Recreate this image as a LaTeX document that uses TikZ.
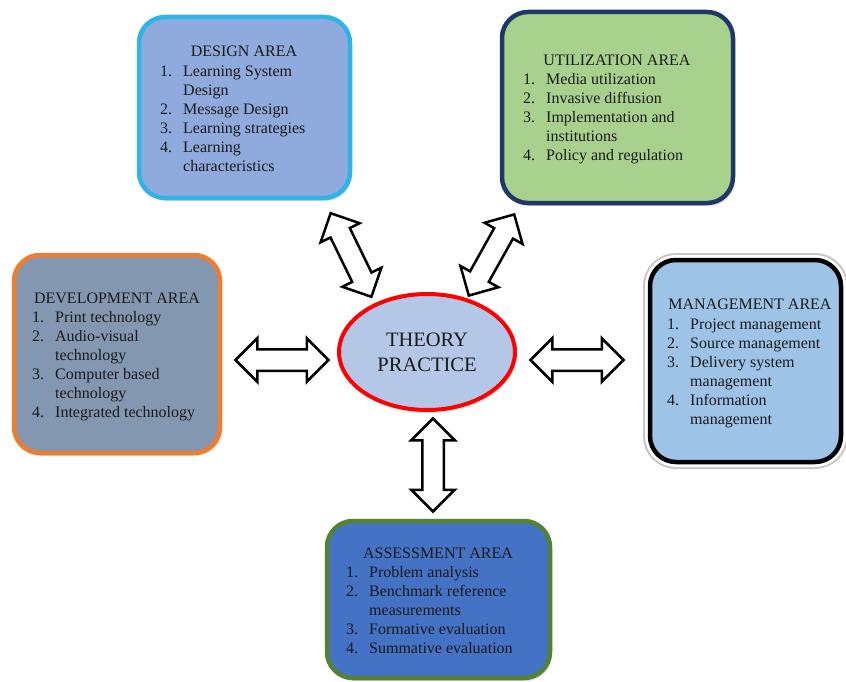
\documentclass[tikz,border=0pt]{standalone}
\usepackage{fontspec}
\setmainfont{Liberation Serif}
\usepackage{tikz}
\usetikzlibrary{shapes.geometric, shapes.arrows, shadows}
\definecolor{designfill}{HTML}{8FAADC}
\definecolor{designline}{HTML}{2EB4E6}
\definecolor{utilfill}{HTML}{A9D18E}
\definecolor{utilline}{HTML}{1F3866}
\definecolor{devfill}{HTML}{8497B0}
\definecolor{devline}{HTML}{ED7D31}
\definecolor{mgmtfill}{HTML}{9DC3E6}
\definecolor{assessfill}{HTML}{4472C4}
\definecolor{assessline}{HTML}{548235}
\definecolor{theoryfill}{HTML}{B4C7E7}
\definecolor{textdark}{HTML}{1A1A1A}

\tikzset{
    areabox/.style={draw, line width=4.5pt, rounded corners=26pt, inner sep=0pt,
        drop shadow={opacity=0.25, shadow xshift=2pt, shadow yshift=-3pt}},
    areatitle/.style={anchor=base, inner sep=0pt, text=textdark, font=\fontsize{16}{19}\selectfont},
    arealist/.style={anchor=base west, inner sep=0pt, text=textdark, font=\fontsize{16}{19}\selectfont},
    linkarrow/.style={double arrow, draw, line width=2.5pt, fill=white, inner sep=9.5pt,
        double arrow head extend=11pt, minimum height=93pt},
}
\newcommand{\itemlist}[1]{\begin{tabular}[t]{@{}l@{\hspace{11pt}}l@{}}#1\end{tabular}}

\begin{document}
\begin{tikzpicture}[x=1pt, y=-1pt]
    \useasboundingbox (0,0) rectangle (846,682);

    % Centre
    \node[ellipse, draw=red, line width=4pt, fill=theoryfill, minimum width=176pt, minimum height=116pt,
        inner sep=0pt, drop shadow={opacity=0.2, shadow xshift=2pt, shadow yshift=-3pt}] (theory) at (427,352) {};
    \node[anchor=base, inner sep=0pt, text=textdark, font=\fontsize{20.5}{24}\selectfont] (theorytxt) at (427,346.5) {THEORY};
    \node[anchor=base, inner sep=0pt, text=textdark, font=\fontsize{20.5}{24}\selectfont] (practicetxt) at (427,371.5) {PRACTICE};

    % Design area (top left)
    \node[areabox, draw=designline, fill=designfill, minimum width=211pt, minimum height=181pt] (design) at (244.5,107.5) {};
    \node[areatitle] (designtitle) at (244,57) {DESIGN AREA};
    \node[arealist] (designlist) at (160,77) {\itemlist{
        1. & Learning System\\
           & Design\\
        2. & Message Design\\
        3. & Learning strategies\\
        4. & Learning\\
           & characteristics}};

    % Utilization area (top right)
    \node[areabox, draw=utilline, fill=utilfill, minimum width=231pt, minimum height=191pt] (util) at (617.5,107.5) {};
    \node[areatitle] (utiltitle) at (617,66) {UTILIZATION AREA};
    \node[arealist] (utillist) at (523,85) {\itemlist{
        1. & Media utilization\\
        2. & Invasive diffusion\\
        3. & Implementation and\\
           & institutions\\
        4. & Policy and regulation}};

    % Development area (left)
    \node[areabox, draw=devline, fill=devfill, minimum width=206pt, minimum height=198pt] (dev) at (117,354) {};
    \node[areatitle] (devtitle) at (117,303) {DEVELOPMENT AREA};
    \node[arealist] (devlist) at (32,322) {\itemlist{
        1. & Print technology\\
        2. & Audio-visual\\
           & technology\\
        3. & Computer based\\
           & technology\\
        4. & Integrated technology}};

    % Management area (right)
    \node[areabox, draw=black, fill=mgmtfill, minimum width=191pt, minimum height=202pt,
        preaction={draw=gray!45, line width=14pt}, preaction={draw=white, line width=10pt}] (mgmt) at (745.5,361) {};
    \node[areatitle] (mgmttitle) at (750,309) {MANAGEMENT AREA};
    \node[arealist] (mgmtlist) at (667,329) {\itemlist{
        1. & Project management\\
        2. & Source management\\
        3. & Delivery system\\
           & management\\
        4. & Information\\
           & management}};

    % Assessment area (bottom)
    \node[areabox, draw=assessline, fill=assessfill, minimum width=223pt, minimum height=157pt] (assess) at (438.5,599.5) {};
    \node[areatitle] (assesstitle) at (438,558) {ASSESSMENT AREA};
    \node[arealist] (assesslist) at (346,577) {\itemlist{
        1. & Problem analysis\\
        2. & Benchmark reference\\
           & measurements\\
        3. & Formative evaluation\\
        4. & Summative evaluation}};

    % Links
    \node[linkarrow, rotate=-64] (todesign) at (351,255) {};
    \node[linkarrow, rotate=60.8] (toutil) at (491.5,255) {};
    \node[linkarrow] (todev) at (282,360) {};
    \node[linkarrow] (tomgmt) at (577,360) {};
    \node[linkarrow, rotate=90] (toassess) at (433,465) {};
\end{tikzpicture}
\end{document}
